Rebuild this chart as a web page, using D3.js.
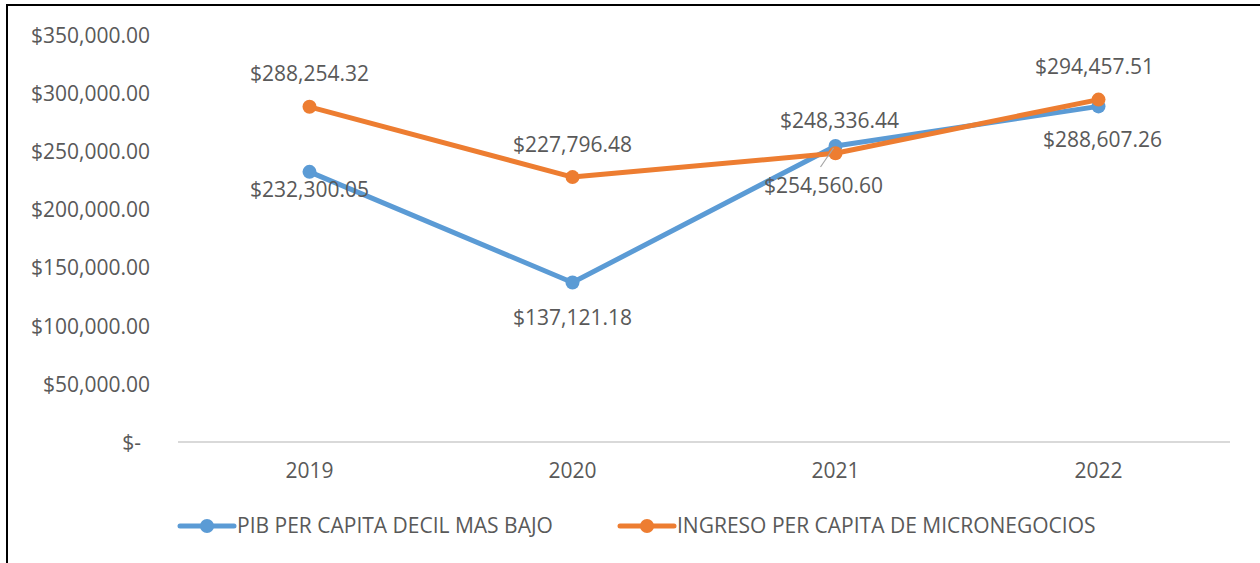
<!DOCTYPE html>
<html>
<head>
<meta charset="utf-8">
<script src="https://cdn.jsdelivr.net/npm/d3@7"></script>
<style>
  body { margin: 0; background: #fff; }
  text { font-family: "Open Sans", "Noto Sans", sans-serif; fill: #595959; }
</style>
</head>
<body>
<svg id="chart" width="1260" height="563"></svg>
<script>
// Data
var years = ["2019", "2020", "2021", "2022"];
var pibDecil = [232300.05, 137121.18, 254560.60, 288607.26];
var ingresoMicro = [288254.32, 227796.48, 248336.44, 294457.51];
var yTicks = [0, 50000, 100000, 150000, 200000, 250000, 300000, 350000];

var seriesNames = ["PIB PER CAPITA DECIL MAS BAJO", "INGRESO PER CAPITA DE MICRONEGOCIOS"];
var seriesColors = ["#5b9bd5", "#ed7d31"];

var svg = d3.select("#chart");

// Frame lines (left and top only, as in the picture)
svg.append("line").attr("x1", 7).attr("x2", 7).attr("y1", 4).attr("y2", 563)
    .attr("stroke", "#000").attr("stroke-width", 2);
svg.append("line").attr("x1", 6).attr("x2", 1260).attr("y1", 5).attr("y2", 5)
    .attr("stroke", "#000").attr("stroke-width", 2);

var x = d3.scaleBand().domain(years).range([178, 1230]);
var y = d3.scaleLinear().domain([0, 350000]).range([442, 35]);

function money(v) {
    if (v === 0) return "$-";
    return "$" + d3.format(",.2f")(v);
}

// Y axis labels (no line)
var yAxis = svg.append("g").attr("transform", "translate(150,0)")
    .call(d3.axisLeft(y).tickValues(yTicks).tickSize(0).tickPadding(0).tickFormat(money));
yAxis.select(".domain").remove();
yAxis.selectAll("text").style("font-size", "21px").attr("dy", "0.35em")
    .style("fill", "#595959")
    .style("font-family", "'Open Sans', 'Noto Sans', sans-serif");
yAxis.selectAll(".tick").filter(function (d) { return d === 0; }).select("text").attr("x", -9);

// X axis baseline
svg.append("line").attr("x1", x.range()[0]).attr("x2", x.range()[1])
    .attr("y1", y(0)).attr("y2", y(0))
    .attr("stroke", "#d9d9d9").attr("stroke-width", 2);

var xAxis = svg.append("g").attr("transform", "translate(0," + y(0) + ")")
    .call(d3.axisBottom(x).tickSize(0).tickPadding(21));
xAxis.select(".domain").remove();
xAxis.selectAll("text").style("font-size", "21px").style("fill", "#595959")
    .style("font-family", "'Open Sans', 'Noto Sans', sans-serif");

function cx(i) { return x(years[i]) + x.bandwidth() / 2; }

var series = [pibDecil, ingresoMicro];

var line = d3.line()
    .x(function (d, i) { return cx(i); })
    .y(function (d) { return y(d); });

series.forEach(function (vals, s) {
    var g = svg.append("g");
    g.append("path").datum(vals)
        .attr("d", line)
        .attr("fill", "none")
        .attr("stroke", seriesColors[s])
        .attr("stroke-width", 5)
        .attr("stroke-linejoin", "round")
        .attr("stroke-linecap", "round");
    g.selectAll("circle").data(vals).enter().append("circle")
        .attr("cx", function (d, i) { return cx(i); })
        .attr("cy", function (d) { return y(d); })
        .attr("r", 7)
        .attr("fill", seriesColors[s]);
});

// Data labels: offsets (dx, dy) relative to each point
var labelOffsets = [
    [[0, 18], [0, 35], [-12, 40], [4, 33]],      // blue series, below
    [[0, -33], [0, -32], [4, -33], [-4, -33]]    // orange series, above
];

// Leader line for the 2021 blue label
svg.append("line")
    .attr("x1", cx(2) - 2).attr("y1", y(pibDecil[2]) + 2)
    .attr("x2", cx(2) - 15).attr("y2", y(pibDecil[2]) + 21)
    .attr("stroke", "#a6a6a6").attr("stroke-width", 1.2);

series.forEach(function (vals, s) {
    svg.append("g").selectAll("text").data(vals).enter().append("text")
        .attr("x", function (d, i) { return cx(i) + labelOffsets[s][i][0]; })
        .attr("y", function (d, i) { return y(d) + labelOffsets[s][i][1]; })
        .attr("text-anchor", "middle")
        .attr("dy", "0.35em")
        .style("font-size", "21px")
        .text(money);
});

// Legend
var legendX = [180, 620];
var legend = svg.append("g").attr("transform", "translate(0,526)");
seriesNames.forEach(function (name, s) {
    var lg = legend.append("g").attr("transform", "translate(" + legendX[s] + ",0)");
    lg.append("line").attr("x1", 0).attr("x2", 54).attr("y1", 0).attr("y2", 0)
        .attr("stroke", seriesColors[s]).attr("stroke-width", 5)
        .attr("stroke-linecap", "round");
    lg.append("circle").attr("cx", 27).attr("cy", 0).attr("r", 7).attr("fill", seriesColors[s]);
    lg.append("text").attr("x", 57).attr("dy", "0.35em")
        .style("font-size", "21px").text(name);
});
</script>
</body>
</html>
